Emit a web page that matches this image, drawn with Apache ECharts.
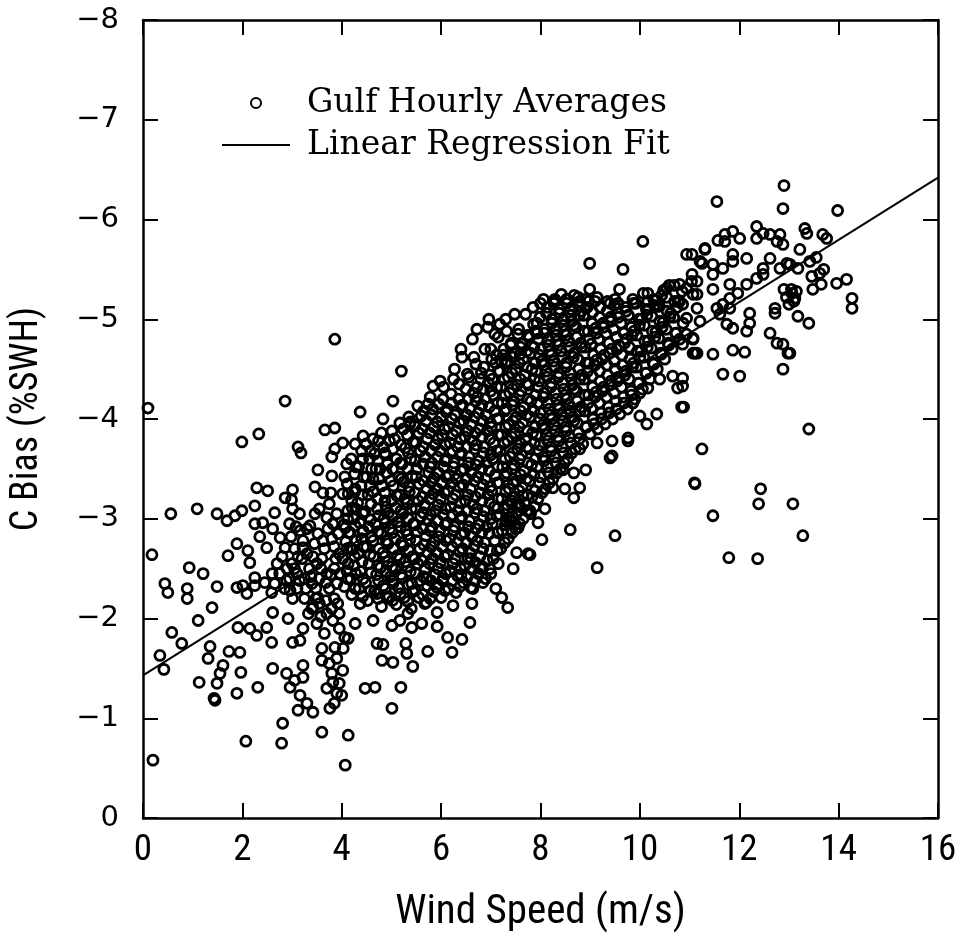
<!DOCTYPE html>
<html>
<head>
<meta charset="utf-8">
<script src="https://cdn.jsdelivr.net/npm/echarts@6/dist/echarts.min.js"></script>
<style>
html,body{margin:0;padding:0;background:#fff;}
#chart{width:961px;height:938px;}
</style>
</head>
<body>
<div id="chart"></div>
<script>
// ---- Data (wind speed m/s, C bias %SWH) ----
var xTicks = [0, 2, 4, 6, 8, 10, 12, 14, 16];
var yTicks = [0, -1, -2, -3, -4, -5, -6, -7, -8];
var seriesNames = ['Gulf Hourly Averages', 'Linear Regression Fit'];

var fitX = [0, 16];
var fitY = [-1.43, -6.42];

// points with wind speed below 2 m/s
var ptsLow = [[0.1,-4.11],[0.18,-2.64],[0.2,-0.58],[0.34,-1.63],[0.42,-1.49],[0.44,-2.35],[0.5,-2.26],[0.56,-3.05],[0.58,-1.86],[0.78,-1.75],[0.93,-2.51],[0.89,-2.3],[0.89,-2.2],[1.09,-3.1],[1.11,-1.98],[1.13,-1.36],[1.21,-2.45],[1.39,-2.11],[1.35,-1.72],[1.31,-1.6],[1.43,-1.2],[1.45,-1.18],[1.49,-2.32],[1.49,-3.05],[1.49,-1.35],[1.55,-1.45],[1.61,-1.53],[1.69,-2.98],[1.73,-1.67],[1.85,-3.03],[1.71,-2.63],[1.89,-2.75],[1.89,-2.31],[1.89,-1.25],[1.91,-1.91],[1.95,-1.66],[1.97,-1.46],[1.99,-3.77],[1.99,-3.08]];

// 2 - 4 m/s
var ptsLeft = [[2.01,-2.33],[2.07,-0.77],[2.09,-2.25],[2.11,-2.68],[2.15,-2.56],[2.15,-1.9],[2.25,-3.13],[2.25,-2.41],[2.25,-2.33],[2.25,-2.95],[2.29,-3.31],[2.29,-1.83],[2.31,-1.31],[2.33,-3.85],[2.35,-2.82],[2.41,-2.96],[2.45,-2.36],[2.49,-2.71],[2.49,-1.91],[2.51,-3.28],[2.59,-2.26],[2.59,-1.76],[2.61,-2.9],[2.61,-2.06],[2.61,-1.5],[2.65,-3.06],[2.76,-2.81],[2.79,-0.75],[2.81,-0.95],[2.86,-4.18],[2.86,-3.21],[2.86,-2.71],[2.89,-2.38],[2.89,-1.45],[2.92,-2.0],[2.96,-2.28],[2.96,-1.31],[2.99,-3.19],[3.01,-3.29],[3.01,-3.1],[3.01,-2.2],[3.01,-1.76],[3.05,-1.38],[3.12,-3.72],[3.12,-1.08],[3.16,-2.88],[3.16,-1.78],[3.16,-1.23],[3.18,-3.66],[3.22,-2.71],[3.22,-1.9],[3.22,-1.53],[3.22,-1.41],[3.3,-1.15],[3.36,-2.93],[3.42,-2.11],[3.42,-1.06],[3.46,-3.32],[3.46,-3.05],[3.52,-3.49],[3.52,-2.21],[3.6,-1.7],[3.6,-1.58],[3.6,-0.86],[3.62,-3.26],[3.66,-3.89],[3.7,-3.01],[3.76,-1.1],[3.78,-3.26],[3.8,-3.62],[3.8,-3.43],[3.82,-2.95],[3.82,-1.98],[3.82,-1.36],[3.86,-3.91],[3.86,-3.7],[3.86,-1.71],[3.9,-1.25],[3.86,-4.8],
[2.9,-2.5],[3.0,-2.55],[3.1,-2.45],[3.2,-2.6],[3.25,-2.4],[3.35,-2.5],[3.4,-2.35],[3.5,-2.55],[3.55,-2.4],[3.6,-2.6],[3.7,-2.45],[3.75,-2.3],[3.85,-2.5],[3.9,-2.35],[3.3,-2.65],[3.45,-2.75],[3.65,-2.7],[3.8,-2.8],[3.95,-2.65],[3.1,-2.3],[3.25,-2.2],[3.4,-2.1],[3.55,-2.15],[3.7,-2.05],[3.85,-2.2],[3.95,-2.05],[3.5,-1.95],[3.65,-1.85],[3.75,-1.55],[3.9,-1.6],[3.95,-1.9],[3.3,-2.9],[3.55,-3.1],[3.75,-3.15],[3.9,-3.05],[3.05,-2.7],[2.95,-2.95],[3.15,-3.05],[2.7,-2.55],[2.8,-2.62],[2.6,-2.45],[3.8,-1.45],[3.85,-1.15],[3.7,-1.3],[3.95,-1.35]];

// denser patch 2.5 - 4 m/s
var ptsLeftDense = [[2.65,-2.35],[2.75,-2.45],[2.85,-2.3],[2.95,-2.4],[3.05,-2.5],[3.15,-2.38],[3.28,-2.3],[3.38,-2.42],[3.48,-2.3],[3.58,-2.5],[3.68,-2.36],[3.78,-2.44],[3.88,-2.6],[3.97,-2.45],[3.62,-2.78],[3.72,-2.9],[3.85,-2.72],[3.93,-2.85],[3.42,-2.62],[3.52,-2.85],[3.12,-2.62],[3.22,-2.78],[2.98,-2.82],[3.08,-2.92],[3.58,-2.02],[3.68,-2.18],[3.8,-2.1],[3.92,-2.15],[3.48,-2.2],[3.33,-2.05]];

// 4 - 7.5 m/s, scattered points around the core
var ptsMid = [[4.13,-0.83],[4.07,-0.53],[4.47,-1.3],[4.67,-1.31],[5.01,-1.1],[5.19,-1.31],[4.81,-1.58],[5.03,-1.56],[5.43,-1.52],[5.29,-1.75],[5.73,-1.67],[6.22,-1.66],[6.13,-1.81],[6.42,-1.79],[6.58,-1.96],[5.92,-1.92],[7.34,-2.11],[7.22,-2.21],[6.84,-2.36],[6.64,-2.3],[6.62,-2.15],[6.24,-2.13],[6.4,-2.44],[4.06,-1.81],[4.0,-1.23],[4.71,-1.75],[4.83,-1.74],[5.31,-1.65],[4.37,-2.15],[4.91,-2.21],[4.71,-2.25],[5.03,-2.38],[5.41,-2.35],[5.71,-2.4],[5.92,-2.31],[6.04,-2.4],[5.67,-2.15],[5.92,-2.06],[5.33,-2.05],[5.17,-1.98],[5.41,-1.91],[5.61,-1.95],[5.01,-1.93],[4.63,-1.98],[4.27,-1.95],[4.13,-1.8],[4.03,-1.7],[4.02,-1.48],
[5.84,-4.33],[5.03,-4.18],[5.53,-4.13],[4.83,-4.0],[5.17,-3.96],[5.37,-3.95],[4.43,-3.83],[4.02,-3.76],[4.27,-3.75],[4.63,-3.8],[4.87,-3.66],[4.02,-3.25],[4.27,-3.3],[4.63,-3.4],[4.87,-3.18],[5.11,-3.23],[4.21,-3.11],[4.43,-3.05],[4.07,-2.91],[4.43,-2.88],[4.63,-2.78],[4.93,-2.75],[4.17,-2.71],[7.52,-2.66],[7.75,-2.65],[7.55,-2.91],[7.38,-3.01],[7.14,-3.11],[7.55,-3.13],[7.65,-3.23],[5.2,-4.48],[4.37,-4.07]];

// dense core, 4 - 11 m/s
var ptsCoreA = [[4.05,-2.32],[4.1,-2.48],[4.02,-2.6],[4.08,-2.77],[4.04,-2.94],[4.12,-3.08],[4.06,-3.42],[4.1,-3.55],
[4.2,-2.24],[4.18,-2.4],[4.25,-2.53],[4.22,-2.69],[4.17,-2.86],[4.24,-3.0],[4.2,-3.18],[4.26,-3.45],[4.19,-3.6],
[4.35,-2.3],[4.38,-2.47],[4.33,-2.65],[4.4,-2.8],[4.36,-2.96],[4.32,-3.16],[4.39,-3.33],[4.34,-3.52],[4.4,-3.68],
[4.52,-2.18],[4.48,-2.36],[4.55,-2.55],[4.5,-2.72],[4.54,-2.92],[4.47,-3.07],[4.53,-3.24],[4.5,-3.42],[4.56,-3.6],[4.49,-3.75],
[4.66,-2.27],[4.7,-2.44],[4.64,-2.62],[4.68,-2.95],[4.72,-3.1],[4.63,-3.27],[4.69,-3.5],[4.66,-3.65],
[4.8,-2.12],[4.84,-2.33],[4.78,-2.51],[4.83,-2.66],[4.79,-2.85],[4.85,-3.0],[4.81,-3.33],[4.77,-3.5],[4.84,-3.72],[4.8,-3.86],
[4.95,-2.22],[4.98,-2.42],[4.93,-2.57],[4.97,-2.9],[4.94,-3.06],[4.99,-3.38],[4.92,-3.55],[4.96,-3.78],
[5.1,-2.14],[5.14,-2.31],[5.08,-2.49],[5.12,-2.63],[5.07,-2.8],[5.13,-2.97],[5.09,-3.11],[5.15,-3.42],[5.1,-3.6],[5.06,-3.8],
[5.26,-2.21],[5.22,-2.41],[5.28,-2.57],[5.24,-2.73],[5.29,-2.88],[5.23,-3.05],[5.27,-3.2],[5.25,-3.37],[5.22,-3.55],[5.28,-3.71],[5.24,-3.9],
[5.4,-2.1],[5.43,-2.27],[5.38,-2.47],[5.42,-2.62],[5.37,-2.79],[5.44,-2.95],[5.4,-3.1],[5.36,-3.27],[5.42,-3.43],[5.39,-3.6],[5.44,-3.77],[5.38,-3.97],
[5.55,-2.21],[5.58,-2.38],[5.53,-2.55],[5.57,-2.7],[5.52,-2.87],[5.59,-3.02],[5.54,-3.18],[5.56,-3.35],[5.51,-3.5],[5.58,-3.68],[5.55,-3.86],[5.6,-4.03],
[5.7,-2.16],[5.72,-2.33],[5.68,-2.5],[5.73,-2.66],[5.69,-2.83],[5.74,-2.99],[5.67,-3.14],[5.71,-3.3],[5.75,-3.46],[5.68,-3.62],[5.72,-3.8],[5.7,-3.98],[5.74,-4.15],
[5.85,-2.27],[5.88,-2.44],[5.83,-2.6],[5.87,-2.77],[5.82,-2.92],[5.89,-3.08],[5.84,-3.25],[5.86,-3.41],[5.81,-3.56],[5.88,-3.74],[5.85,-3.92],[5.83,-4.1]];

var ptsCoreB = [[6.0,-2.21],[6.03,-2.38],[5.98,-2.56],[6.02,-2.72],[5.97,-2.88],[6.04,-3.04],[5.99,-3.2],[6.01,-3.36],[6.05,-3.52],[5.98,-3.68],[6.02,-3.84],[6.0,-4.02],[6.04,-4.2],[5.98,-4.38],
[6.15,-2.3],[6.18,-2.48],[6.13,-2.64],[6.17,-2.8],[6.12,-2.96],[6.19,-3.12],[6.14,-3.28],[6.16,-3.44],[6.11,-3.6],[6.18,-3.76],[6.15,-3.92],[6.13,-4.1],[6.2,-4.25],
[6.3,-2.26],[6.33,-2.43],[6.28,-2.6],[6.32,-2.76],[6.27,-2.92],[6.34,-3.08],[6.29,-3.24],[6.31,-3.4],[6.26,-3.56],[6.33,-3.72],[6.3,-3.88],[6.28,-4.04],[6.35,-4.2],[6.27,-4.5],
[6.45,-2.36],[6.48,-2.53],[6.43,-2.7],[6.47,-2.86],[6.42,-3.02],[6.49,-3.18],[6.44,-3.34],[6.46,-3.5],[6.41,-3.66],[6.48,-3.82],[6.45,-3.98],[6.43,-4.14],[6.5,-4.3],[6.42,-4.62],
[6.6,-2.31],[6.63,-2.49],[6.58,-2.66],[6.62,-2.82],[6.57,-2.98],[6.64,-3.14],[6.59,-3.3],[6.61,-3.46],[6.56,-3.62],[6.63,-3.78],[6.6,-3.94],[6.58,-4.1],[6.65,-4.26],[6.56,-4.42],[6.63,-4.8],
[6.75,-2.45],[6.78,-2.62],[6.73,-2.78],[6.77,-2.94],[6.72,-3.1],[6.79,-3.26],[6.74,-3.42],[6.76,-3.58],[6.71,-3.74],[6.78,-3.9],[6.75,-4.06],[6.73,-4.22],[6.8,-4.4],[6.7,-4.55],
[6.9,-2.4],[6.93,-2.58],[6.88,-2.76],[6.92,-2.92],[6.87,-3.08],[6.94,-3.24],[6.89,-3.4],[6.91,-3.56],[6.86,-3.72],[6.93,-3.88],[6.9,-4.04],[6.88,-4.2],[6.95,-4.36],[6.86,-4.52],[6.94,-4.92],
[7.05,-2.6],[7.08,-2.78],[7.03,-2.95],[7.07,-3.12],[7.02,-3.28],[7.09,-3.44],[7.04,-3.6],[7.06,-3.76],[7.01,-3.92],[7.08,-4.08],[7.05,-4.24],[7.03,-4.4],[7.1,-4.56],[7.0,-4.7],[7.08,-4.85],
[7.2,-2.7],[7.23,-2.88],[7.18,-3.04],[7.22,-3.2],[7.17,-3.36],[7.24,-3.52],[7.19,-3.68],[7.21,-3.84],[7.16,-4.0],[7.23,-4.16],[7.2,-4.32],[7.18,-4.48],[7.25,-4.64],[7.15,-4.82],
[7.35,-2.8],[7.38,-2.98],[7.33,-3.14],[7.37,-3.3],[7.32,-3.46],[7.39,-3.62],[7.34,-3.78],[7.36,-3.94],[7.31,-4.1],[7.38,-4.26],[7.35,-4.42],[7.33,-4.58],[7.4,-4.74],[7.3,-5.0],
[7.5,-2.9],[7.53,-3.06],[7.48,-3.22],[7.52,-3.38],[7.47,-3.54],[7.54,-3.7],[7.49,-3.86],[7.51,-4.02],[7.46,-4.18],[7.53,-4.34],[7.5,-4.5],[7.48,-4.66],[7.55,-4.85],
[7.65,-3.0],[7.68,-3.16],[7.63,-3.32],[7.67,-3.48],[7.62,-3.64],[7.69,-3.8],[7.64,-3.96],[7.66,-4.12],[7.61,-4.28],[7.68,-4.44],[7.65,-4.6],[7.63,-4.76],[7.7,-5.05],
[7.8,-3.05],[7.83,-3.22],[7.78,-3.38],[7.82,-3.54],[7.77,-3.7],[7.84,-3.86],[7.79,-4.02],[7.81,-4.18],[7.76,-4.34],[7.83,-4.5],[7.8,-4.66],[7.78,-4.82],[7.86,-4.95],
[7.95,-3.2],[7.98,-3.36],[7.93,-3.52],[7.97,-3.68],[7.92,-3.84],[7.99,-4.0],[7.94,-4.16],[7.96,-4.32],[7.91,-4.48],[7.98,-4.64],[7.95,-4.8],[7.93,-4.96],[8.0,-5.16]];

var ptsCoreC = [[8.1,-3.3],[8.16,-3.46],[8.05,-3.62],[8.14,-3.78],[8.04,-3.94],[8.17,-4.1],[8.07,-4.26],[8.13,-4.42],[8.03,-4.58],[8.16,-4.74],[8.08,-4.9],[8.12,-5.06],[8.06,-5.2],
[8.25,-3.4],[8.31,-3.56],[8.2,-3.72],[8.29,-3.88],[8.19,-4.04],[8.32,-4.2],[8.22,-4.36],[8.28,-4.52],[8.18,-4.68],[8.31,-4.84],[8.23,-5.0],[8.27,-5.16],
[8.4,-3.5],[8.46,-3.66],[8.35,-3.82],[8.44,-3.98],[8.34,-4.14],[8.47,-4.3],[8.37,-4.46],[8.43,-4.62],[8.33,-4.78],[8.46,-4.94],[8.38,-5.1],[8.42,-5.25],
[8.55,-3.6],[8.61,-3.76],[8.5,-3.92],[8.59,-4.08],[8.49,-4.24],[8.62,-4.4],[8.52,-4.56],[8.58,-4.72],[8.48,-4.88],[8.61,-5.04],[8.53,-5.2],
[8.7,-3.7],[8.76,-3.86],[8.65,-4.02],[8.74,-4.18],[8.64,-4.34],[8.77,-4.5],[8.67,-4.66],[8.73,-4.82],[8.63,-4.98],[8.76,-5.14],
[8.85,-3.75],[8.91,-3.92],[8.8,-4.08],[8.89,-4.24],[8.79,-4.4],[8.92,-4.56],[8.82,-4.72],[8.88,-4.88],[8.78,-5.04],[8.91,-5.2],
[9.0,-3.85],[9.06,-4.0],[8.96,-4.16],[9.05,-4.32],[8.95,-4.48],[9.07,-4.64],[8.98,-4.8],[9.04,-4.96],[8.94,-5.12],
[9.15,-3.9],[9.22,-4.06],[9.1,-4.22],[9.2,-4.38],[9.09,-4.54],[9.21,-4.7],[9.12,-4.86],[9.19,-5.02],[9.1,-5.18],
[9.3,-3.95],[9.37,-4.12],[9.25,-4.28],[9.35,-4.44],[9.24,-4.6],[9.38,-4.76],[9.27,-4.92],[9.34,-5.08],
[9.45,-4.0],[9.52,-4.18],[9.4,-4.34],[9.5,-4.5],[9.39,-4.66],[9.53,-4.82],[9.42,-4.98],[9.49,-5.14],
[9.6,-4.05],[9.67,-4.22],[9.55,-4.38],[9.65,-4.54],[9.54,-4.7],[9.68,-4.86],[9.57,-5.02],
[9.75,-4.1],[9.82,-4.28],[9.7,-4.44],[9.8,-4.6],[9.69,-4.76],[9.83,-4.92],[9.72,-5.08],
[9.9,-4.2],[9.97,-4.36],[9.85,-4.52],[9.95,-4.68],[9.84,-4.84],[9.98,-5.0],[9.87,-5.16],
[10.05,-4.3],[10.12,-4.46],[10.0,-4.62],[10.1,-4.78],[9.99,-4.94],[10.13,-5.1],
[10.2,-4.4],[10.27,-4.56],[10.15,-4.72],[10.25,-4.88],[10.14,-5.04],[10.28,-5.2],
[10.35,-4.5],[10.42,-4.66],[10.3,-4.82],[10.4,-4.98],[10.29,-5.14],
[10.5,-4.6],[10.57,-4.76],[10.45,-4.92],[10.55,-5.08],[10.44,-5.24],
[10.65,-4.7],[10.72,-4.86],[10.6,-5.02],[10.7,-5.18],[10.59,-5.34],
[10.8,-4.8],[10.87,-4.96],[10.75,-5.12],[10.85,-5.28]];

// more core points lying between the ones above
var ptsCoreD = [[4.12,-2.4],[4.13,-2.55],[4.11,-2.7],[4.14,-2.86],[4.12,-3.0],[4.13,-3.25],[4.11,-3.35],
[4.27,-2.3],[4.28,-2.45],[4.26,-2.62],[4.29,-2.78],[4.27,-2.93],[4.28,-3.1],[4.26,-3.27],[4.29,-3.52],
[4.42,-2.22],[4.43,-2.4],[4.41,-2.57],[4.44,-2.72],[4.42,-2.88],[4.43,-3.06],[4.41,-3.24],[4.44,-3.42],[4.42,-3.6],
[4.58,-2.28],[4.59,-2.46],[4.57,-2.64],[4.6,-2.82],[4.58,-2.99],[4.59,-3.15],[4.57,-3.33],[4.6,-3.5],[4.58,-3.68],
[4.73,-2.2],[4.74,-2.38],[4.72,-2.53],[4.75,-2.7],[4.73,-2.87],[4.74,-3.03],[4.72,-3.2],[4.75,-3.4],[4.73,-3.58],[4.74,-3.78],
[4.88,-2.3],[4.89,-2.47],[4.87,-2.62],[4.9,-2.78],[4.88,-2.96],[4.89,-3.12],[4.87,-3.26],[4.9,-3.46],[4.88,-3.64],
[5.02,-2.18],[5.03,-2.35],[5.01,-2.52],[5.04,-2.7],[5.02,-2.86],[5.03,-3.02],[5.01,-3.18],[5.04,-3.33],[5.02,-3.5],[5.03,-3.7],[5.01,-3.88],
[5.18,-2.25],[5.19,-2.44],[5.17,-2.6],[5.2,-2.76],[5.18,-2.92],[5.19,-3.08],[5.17,-3.24],[5.2,-3.4],[5.18,-3.56],[5.19,-3.74],
[5.33,-2.17],[5.34,-2.34],[5.32,-2.52],[5.35,-2.68],[5.33,-2.84],[5.34,-3.0],[5.32,-3.16],[5.35,-3.32],[5.33,-3.5],[5.34,-3.66],[5.32,-3.84],[5.35,-4.02],
[5.48,-2.28],[5.49,-2.45],[5.47,-2.6],[5.5,-2.78],[5.48,-2.94],[5.49,-3.1],[5.47,-3.26],[5.5,-3.42],[5.48,-3.58],[5.49,-3.76],[5.47,-3.93],
[5.63,-2.24],[5.64,-2.42],[5.62,-2.58],[5.65,-2.74],[5.63,-2.9],[5.64,-3.06],[5.62,-3.22],[5.65,-3.38],[5.63,-3.55],[5.64,-3.72],[5.62,-3.9],[5.65,-4.08],
[5.78,-2.2],[5.79,-2.38],[5.77,-2.55],[5.8,-2.72],[5.78,-2.88],[5.79,-3.04],[5.77,-3.2],[5.8,-3.36],[5.78,-3.52],[5.79,-3.68],[5.77,-3.86],[5.8,-4.04],[5.78,-4.22],
[5.93,-2.34],[5.94,-2.5],[5.92,-2.66],[5.95,-2.82],[5.93,-2.98],[5.94,-3.14],[5.92,-3.3],[5.95,-3.46],[5.93,-3.62],[5.94,-3.8],[5.92,-3.97],[5.95,-4.15],
[6.08,-2.28],[6.09,-2.45],[6.07,-2.62],[6.1,-2.78],[6.08,-2.94],[6.09,-3.1],[6.07,-3.26],[6.1,-3.42],[6.08,-3.58],[6.09,-3.74],[6.07,-3.9],[6.1,-4.07],[6.05,-4.32],
[6.23,-2.38],[6.24,-2.55],[6.22,-2.72],[6.25,-2.88],[6.23,-3.04],[6.24,-3.2],[6.22,-3.36],[6.25,-3.52],[6.23,-3.68],[6.24,-3.84],[6.22,-4.0],[6.21,-4.16],[6.25,-4.4],
[6.38,-2.32],[6.39,-2.5],[6.37,-2.67],[6.4,-2.84],[6.38,-3.0],[6.39,-3.16],[6.37,-3.32],[6.4,-3.48],[6.38,-3.64],[6.39,-3.8],[6.37,-3.96],[6.4,-4.13],[6.36,-4.35],[6.4,-4.7],
[6.53,-2.42],[6.54,-2.6],[6.52,-2.76],[6.55,-2.92],[6.53,-3.08],[6.54,-3.24],[6.52,-3.4],[6.55,-3.56],[6.53,-3.72],[6.54,-3.88],[6.52,-4.04],[6.55,-4.2],[6.53,-4.45],
[6.68,-2.38],[6.69,-2.56],[6.67,-2.73],[6.7,-2.9],[6.68,-3.06],[6.69,-3.22],[6.67,-3.38],[6.7,-3.54],[6.68,-3.7],[6.69,-3.86],[6.67,-4.02],[6.7,-4.18],[6.72,-4.32],[6.66,-4.62],[6.72,-4.9],
[6.83,-2.52],[6.84,-2.7],[6.82,-2.86],[6.85,-3.02],[6.83,-3.18],[6.84,-3.34],[6.82,-3.5],[6.85,-3.66],[6.83,-3.82],[6.84,-3.98],[6.82,-4.14],[6.85,-4.3],[6.81,-4.46],[6.88,-4.7],
[6.98,-2.5],[6.99,-2.68],[6.97,-2.85],[7.0,-3.0],[6.98,-3.16],[6.99,-3.32],[6.97,-3.48],[7.0,-3.64],[6.98,-3.8],[6.99,-3.96],[6.97,-4.12],[7.0,-4.28],[6.98,-4.44],[7.02,-4.6],[6.96,-5.0],
[7.13,-2.68],[7.14,-2.86],[7.12,-3.03],[7.15,-3.2],[7.13,-3.36],[7.14,-3.52],[7.12,-3.68],[7.15,-3.84],[7.13,-4.0],[7.14,-4.16],[7.12,-4.32],[7.15,-4.48],[7.11,-4.64],[7.18,-4.95],
[7.28,-2.76],[7.29,-2.94],[7.27,-3.1],[7.3,-3.27],[7.28,-3.43],[7.29,-3.6],[7.27,-3.76],[7.3,-3.92],[7.28,-4.08],[7.29,-4.24],[7.27,-4.4],[7.3,-4.56],[7.26,-4.7],[7.32,-4.88],
[7.43,-2.86],[7.44,-3.02],[7.42,-3.18],[7.45,-3.35],[7.43,-3.5],[7.44,-3.66],[7.42,-3.82],[7.45,-3.98],[7.43,-4.14],[7.44,-4.3],[7.42,-4.46],[7.45,-4.62],[7.41,-4.76],
[7.58,-2.95],[7.59,-3.12],[7.57,-3.28],[7.6,-3.44],[7.58,-3.6],[7.59,-3.76],[7.57,-3.92],[7.6,-4.08],[7.58,-4.24],[7.59,-4.4],[7.57,-4.56],[7.6,-4.72],[7.56,-4.9],
[7.73,-3.08],[7.74,-3.24],[7.72,-3.4],[7.75,-3.56],[7.73,-3.72],[7.74,-3.88],[7.72,-4.04],[7.75,-4.2],[7.73,-4.36],[7.74,-4.52],[7.72,-4.68],[7.75,-4.84],
[7.88,-3.12],[7.89,-3.28],[7.87,-3.44],[7.9,-3.6],[7.88,-3.76],[7.89,-3.92],[7.87,-4.08],[7.9,-4.24],[7.88,-4.4],[7.89,-4.56],[7.87,-4.72],[7.9,-4.88],[7.85,-5.12],
[8.03,-3.26],[8.0,-3.42],[8.07,-3.58],[7.99,-3.74],[8.08,-3.9],[8.0,-4.06],[8.06,-4.22],[7.98,-4.38],[8.07,-4.54],[8.01,-4.7],[8.08,-4.86],[7.99,-5.02],
[8.18,-3.36],[8.14,-3.52],[8.22,-3.68],[8.13,-3.84],[8.23,-4.0],[8.15,-4.16],[8.21,-4.32],[8.12,-4.48],[8.22,-4.64],[8.16,-4.8],[8.23,-4.96],[8.14,-5.12],
[8.33,-3.46],[8.29,-3.62],[8.37,-3.78],[8.28,-3.94],[8.38,-4.1],[8.3,-4.26],[8.36,-4.42],[8.27,-4.58],[8.37,-4.74],[8.31,-4.9],[8.38,-5.06],[8.29,-5.2],
[8.48,-3.56],[8.44,-3.72],[8.52,-3.88],[8.43,-4.04],[8.53,-4.2],[8.45,-4.36],[8.51,-4.52],[8.42,-4.68],[8.52,-4.84],[8.46,-5.0],[8.53,-5.16],
[8.63,-3.66],[8.59,-3.82],[8.67,-3.98],[8.58,-4.14],[8.68,-4.3],[8.6,-4.46],[8.66,-4.62],[8.57,-4.78],[8.67,-4.94],[8.61,-5.1],[8.68,-5.24],
[8.78,-3.8],[8.74,-3.96],[8.82,-4.12],[8.73,-4.28],[8.83,-4.44],[8.75,-4.6],[8.81,-4.76],[8.72,-4.92],[8.82,-5.08],[8.76,-5.22],
[8.93,-3.92],[8.89,-4.08],[8.97,-4.24],[8.88,-4.4],[8.98,-4.56],[8.9,-4.72],[8.96,-4.88],[8.87,-5.04],[8.97,-5.18],
[9.08,-3.95],[9.03,-4.11],[9.12,-4.27],[9.04,-4.43],[9.13,-4.59],[9.02,-4.75],[9.11,-4.91],[9.05,-5.07],[9.14,-5.22],
[9.23,-4.0],[9.18,-4.16],[9.27,-4.32],[9.19,-4.48],[9.28,-4.64],[9.17,-4.8],[9.26,-4.96],[9.2,-5.12],
[9.38,-4.06],[9.33,-4.22],[9.42,-4.38],[9.34,-4.54],[9.43,-4.7],[9.32,-4.86],[9.41,-5.02],[9.35,-5.18],
[9.53,-4.1],[9.48,-4.26],[9.57,-4.42],[9.49,-4.58],[9.58,-4.74],[9.47,-4.9],[9.56,-5.06],[9.5,-5.2],
[9.68,-4.16],[9.63,-4.32],[9.72,-4.48],[9.64,-4.64],[9.73,-4.8],[9.62,-4.96],[9.71,-5.12],
[9.83,-4.24],[9.78,-4.4],[9.87,-4.56],[9.79,-4.72],[9.88,-4.88],[9.77,-5.04],[9.86,-5.2],
[9.98,-4.36],[9.93,-4.52],[10.02,-4.68],[9.94,-4.84],[10.03,-5.0],[9.92,-5.16],
[10.13,-4.46],[10.08,-4.62],[10.17,-4.78],[10.09,-4.94],[10.18,-5.1],[10.07,-5.26],
[10.28,-4.55],[10.23,-4.71],[10.32,-4.87],[10.24,-5.03],[10.33,-5.19],
[10.43,-4.65],[10.38,-4.81],[10.47,-4.97],[10.39,-5.13],[10.48,-5.29],
[10.58,-4.74],[10.53,-4.9],[10.62,-5.06],[10.54,-5.22],
[10.73,-4.86],[10.68,-5.02],[10.77,-5.18],[10.69,-5.34]];

// 7 - 11 m/s, points around the core edges
var ptsUpper = [[8.99,-5.56],[9.66,-5.5],[7.48,-5.05],[8.99,-5.3],[9.59,-5.3],[10.16,-5.26],[10.54,-5.31],[10.8,-5.35],[11.04,-5.38],[10.84,-4.12],[10.0,-4.03],[10.34,-4.05],[10.14,-3.95],[10.66,-4.43],[10.86,-4.41],[10.76,-4.31],[10.4,-4.4],[10.16,-4.31],[10.0,-4.26],[9.86,-4.16],[9.76,-3.81],[9.44,-3.78],[9.14,-3.76],[9.44,-3.63],[8.79,-3.7],[11.07,-4.8],[11.07,-4.66],[8.29,-5.18],[8.53,-5.2],[8.79,-5.18],[9.4,-5.16],[9.56,-5.16],[10.16,-5.18],[10.34,-5.13],[7.93,-4.86],[7.63,-4.75],[7.22,-4.58],[7.59,-4.65],[10.06,-5.78],
[9.4,-3.61],[11.1,-3.36],[8.6,-2.89],[9.5,-2.83],[9.14,-2.51],[8.03,-2.79],[7.79,-2.64],[8.45,-3.49],[8.67,-3.46],[8.91,-3.49],[8.25,-3.31],[8.49,-3.3],[8.79,-3.31],[8.67,-3.21],[8.09,-3.1],[7.95,-2.96],[7.32,-2.98],[7.42,-3.15],[7.79,-3.08],[9.76,-3.78],
[6.6,-2.6],[6.8,-2.5],[7.0,-2.45],[7.15,-2.55],[7.45,-2.5],[7.1,-2.3]];

// above 11 m/s
var ptsRight = [[12.9,-6.34],[11.55,-6.18],[12.88,-6.11],[13.98,-6.09],[12.35,-5.93],[13.32,-5.91],[13.36,-5.86],[13.68,-5.85],[13.76,-5.81],[11.87,-5.88],[11.71,-5.85],[11.57,-5.79],[11.31,-5.71],[11.05,-5.65],[11.21,-5.58],[14.27,-5.21],[14.27,-5.11],[13.96,-5.36],[14.16,-5.4],[13.4,-4.96],[13.18,-5.03],[12.72,-5.11],[12.72,-5.06],[12.15,-4.88],[12.62,-4.86],[12.76,-4.76],[12.88,-4.75],[13.02,-4.66],[11.47,-4.65],[11.87,-4.69],[12.11,-4.67],[11.11,-4.66],[11.07,-4.81],[11.75,-4.95],[11.87,-4.91],[12.21,-4.96],[12.21,-5.06],[11.47,-5.3],[11.15,-5.38],[10.94,-5.31],[13.22,-5.7],[13.42,-5.58],[13.62,-5.46],[13.46,-5.43],[13.48,-5.3],[13.06,-5.26],[13.12,-5.21],[13.18,-5.51],[12.96,-5.56],[12.62,-5.61],[12.48,-5.51],[12.35,-5.41],[12.15,-5.35],[11.97,-5.26],[11.81,-5.21],[11.67,-5.15],[11.55,-5.11],[11.61,-5.05],[11.81,-5.11],[12.62,-5.85],[12.76,-5.78],[12.88,-5.75],[12.48,-5.86],[12.35,-5.81],[12.15,-5.61],[11.87,-5.58],[11.87,-5.65],[11.67,-5.51],[11.47,-5.55],[11.47,-5.45],[11.25,-5.56],[11.31,-5.7],[11.71,-5.78],[12.01,-5.81],[11.05,-5.45],[11.07,-5.25],[10.86,-5.15],[11.15,-5.11],[10.94,-5.01],[11.21,-4.98],[10.94,-4.85],[10.86,-4.75],
[11.67,-4.45],[12.01,-4.43],[12.88,-4.5],[13.4,-3.9],[11.25,-3.7],[11.11,-3.35],[12.43,-3.3],[12.39,-3.15],[13.08,-3.15],[11.47,-3.03],[13.28,-2.83],[11.79,-2.61],[12.37,-2.6],[10.86,-4.33],[10.88,-4.12],[11.15,-4.66],[12.98,-4.66],
[12.95,-5.22],[13.05,-5.3],[13.1,-5.18],[13.0,-5.15],[12.9,-5.3],[13.15,-5.28],[10.8,-5.18],[11.15,-5.25],[11.81,-5.35],[12.48,-5.45],[12.82,-5.51],[13.02,-5.55],[10.94,-5.65],[12.82,-5.85],[13.55,-5.62],[13.7,-5.5],[13.65,-5.35]];

var scatterData = [].concat(ptsLow, ptsLeft, ptsLeftDense, ptsMid, ptsCoreA, ptsCoreB, ptsCoreC, ptsCoreD, ptsUpper, ptsRight);
var fitData = fitX.map(function (x, i) { return [x, fitY[i]]; });

var chart = echarts.init(document.getElementById('chart'), null, {renderer: 'canvas'});

var sansNarrow = '"Liberation Sans Narrow", "Roboto Condensed", "DejaVu Sans Condensed", Roboto, sans-serif';
function yFmt(v) { return v === 0 ? '0' : '\u2212' + Math.abs(v); }

var tickStyle = {show: true, inside: true, length: 15, lineStyle: {color: '#000', width: 2}};
var lineStyle = {show: true, onZero: false, lineStyle: {color: '#000', width: 2.5}};

chart.setOption({
  animation: false,
  backgroundColor: '#fff',
  grid: {left: 143, right: 23, top: 20, bottom: 120, show: false},
  legend: {
    orient: 'vertical',
    left: 217,
    top: 80,
    itemWidth: 68,
    itemHeight: 10,
    itemGap: 6,
    selectedMode: false,
    textStyle: {fontFamily: '"DejaVu Serif", serif', fontSize: 33, color: '#000', lineHeight: 36, padding: [0, 0, 0, 12]},
    data: [
      {name: seriesNames[0], icon: 'circle', itemStyle: {color: 'rgba(0,0,0,0)', borderColor: '#000', borderWidth: 2}},
      {name: seriesNames[1], icon: 'path://M0,0H68V2H0Z', itemStyle: {color: '#000', borderWidth: 0}}
    ]
  },
  xAxis: [{
    type: 'value', position: 'bottom', min: xTicks[0], max: xTicks[xTicks.length - 1], interval: 2,
    name: 'Wind Speed (m/s)', nameLocation: 'middle', nameGap: 74,
    nameTextStyle: {fontFamily: sansNarrow, fontSize: 41, color: '#000'},
    axisLine: lineStyle, axisTick: tickStyle, splitLine: {show: false},
    axisLabel: {fontFamily: sansNarrow, fontSize: 37, color: '#000', margin: 14}
  }, {
    type: 'value', position: 'top', min: xTicks[0], max: xTicks[xTicks.length - 1], interval: 2,
    axisLine: lineStyle, axisTick: tickStyle, splitLine: {show: false}, axisLabel: {show: false}
  }],
  yAxis: [{
    type: 'value', position: 'left', inverse: true, min: yTicks[yTicks.length - 1], max: yTicks[0], interval: 1,
    name: 'C Bias (%SWH)', nameLocation: 'middle', nameGap: 97, nameRotate: 90,
    nameTextStyle: {fontFamily: sansNarrow, fontSize: 38, color: '#000'},
    axisLine: lineStyle, axisTick: tickStyle, splitLine: {show: false},
    axisLabel: {fontFamily: '"DejaVu Sans", sans-serif', fontSize: 29, color: '#000', margin: 24, formatter: yFmt}
  }, {
    type: 'value', position: 'right', inverse: true, min: yTicks[yTicks.length - 1], max: yTicks[0], interval: 1,
    axisLine: lineStyle, axisTick: tickStyle, splitLine: {show: false}, axisLabel: {show: false}
  }],
  series: [{
    name: seriesNames[0],
    type: 'scatter',
    xAxisIndex: 0, yAxisIndex: 0,
    symbol: 'circle',
    symbolSize: 10,
    itemStyle: {color: 'rgba(0,0,0,0)', borderColor: '#000', borderWidth: 2.8, opacity: 1},
    emphasis: {disabled: true},
    data: scatterData
  }, {
    name: seriesNames[1],
    type: 'line',
    xAxisIndex: 0, yAxisIndex: 0,
    showSymbol: false,
    symbol: 'none',
    lineStyle: {color: '#000', width: 2},
    itemStyle: {color: '#000'},
    data: fitData
  }]
});
</script>
</body>
</html>
